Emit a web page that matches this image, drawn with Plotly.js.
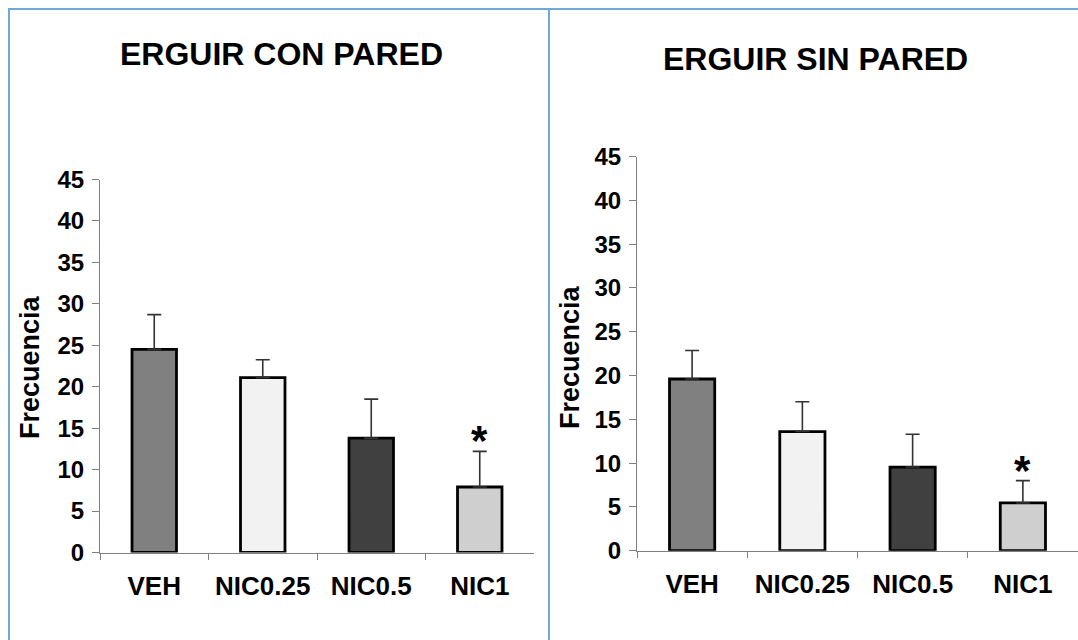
<!DOCTYPE html>
<html>
<head>
<meta charset="utf-8">
<script src="https://cdn.plot.ly/plotly-3.0.1.min.js"></script>
<style>html,body{margin:0;padding:0;background:#fff;}#chart{width:1078px;height:640px;}</style>
</head>
<body>
<div id="chart"></div>
<script>
const categories = ["VEH", "NIC0.25", "NIC0.5", "NIC1"];
const conParedMean = [24.5, 21.1, 13.8, 7.9];
const conParedSEM = [4.2, 2.15, 4.7, 4.3];
const sinParedMean = [19.6, 13.6, 9.55, 5.45];
const sinParedSEM = [3.25, 3.4, 3.75, 2.55];
const barColors = ["#808080", "#f2f2f2", "#404040", "#d0cfd0"];
const yTicks = [0, 5, 10, 15, 20, 25, 30, 35, 40, 45];
const titles = ["ERGUIR CON PARED", "ERGUIR SIN PARED"];
const yTitle = "Frecuencia";
const sigIndex = 3;

const FONT = "Liberation Sans, Arial, sans-serif";
const W = 1078, H = 640;
const px = v => v / W, py = v => 1 - v / H;

function barTrace(means, sems, xa, ya) {
  return {
    type: "bar", x: categories, y: means, xaxis: xa, yaxis: ya,
    marker: {color: barColors, line: {color: "#000", width: 2.8}},
    error_y: {type: "data", array: sems, symmetric: false, arrayminus: sems.map(() => 0),
      color: "#333", thickness: 1.6, width: 7},
    hoverinfo: "skip", showlegend: false
  };
}

const axisCommon = {
  showgrid: false, zeroline: false, showline: true, linecolor: "#808080", linewidth: 1,
  ticks: "outside", ticklen: 7, tickcolor: "#808080"
};
const xTickFont = {family: FONT, size: 26, color: "#000", weight: "bold"};
const yTickFont = {family: FONT, size: 24, color: "#000", weight: "bold"};
const yTitleFont = {family: FONT, size: 27, color: "#000", weight: "bold"};
const titleFont = {family: FONT, size: 32, color: "#000", weight: "bold"};
const starFont = {family: FONT, size: 42, color: "#000", weight: "bold"};

const layout = {
  width: W, height: H, margin: {l: 0, r: 0, t: 0, b: 0},
  paper_bgcolor: "#fff", plot_bgcolor: "rgba(0,0,0,0)",
  bargap: 0.59, showlegend: false,
  xaxis: Object.assign({}, axisCommon, {domain: [px(100), px(534)], anchor: "y", type: "category",
    tickson: "boundaries", range: [-0.5, 3.5], ticklen: 6, ticklabelstandoff: 10, tickfont: xTickFont}),
  yaxis: Object.assign({}, axisCommon, {domain: [py(552.5), py(179.5)], anchor: "x", range: [0, 45],
    tickvals: yTicks, ticktext: yTicks.map(String), ticklabelstandoff: 3, tickfont: yTickFont}),
  xaxis2: Object.assign({}, axisCommon, {domain: [px(637), px(1078)], anchor: "y2", type: "category",
    tickson: "boundaries", range: [-0.5, 3.5], ticklen: 6, ticklabelstandoff: 10, tickfont: xTickFont}),
  yaxis2: Object.assign({}, axisCommon, {domain: [py(550.7), py(156.5)], anchor: "x2", range: [0, 45],
    tickvals: yTicks, ticktext: yTicks.map(String), ticklabelstandoff: 3, tickfont: yTickFont}),
  annotations: [
    {text: titles[0], xref: "paper", yref: "paper", x: px(281), y: py(54), showarrow: false,
     font: titleFont, xanchor: "center", yanchor: "middle"},
    {text: titles[1], xref: "paper", yref: "paper", x: px(815), y: py(59), showarrow: false,
     font: titleFont, xanchor: "center", yanchor: "middle"},
    {text: yTitle, xref: "paper", yref: "paper", x: px(30), y: py(367), textangle: -90, showarrow: false,
     font: yTitleFont, xanchor: "center", yanchor: "middle"},
    {text: yTitle, xref: "paper", yref: "paper", x: px(570), y: py(357), textangle: -90, showarrow: false,
     font: yTitleFont, xanchor: "center", yanchor: "middle"},
    {text: "*", xref: "x", yref: "y", x: categories[sigIndex], y: conParedMean[sigIndex] + conParedSEM[sigIndex],
     yshift: -15, showarrow: false, yanchor: "bottom", font: starFont},
    {text: "*", xref: "x2", yref: "y2", x: categories[sigIndex], y: sinParedMean[sigIndex] + sinParedSEM[sigIndex],
     yshift: -15, showarrow: false, yanchor: "bottom", font: starFont}
  ],
  shapes: [
    {type: "line", xref: "paper", yref: "paper", x0: px(8), x1: 1, y0: py(9), y1: py(9), line: {color: "#6fa8dc", width: 2}},
    {type: "line", xref: "paper", yref: "paper", x0: px(9), x1: px(9), y0: py(8), y1: 0, line: {color: "#6fa8dc", width: 2}},
    {type: "line", xref: "paper", yref: "paper", x0: px(549), x1: px(549), y0: py(8), y1: 0, line: {color: "#6fa8dc", width: 2}}
  ]
};

Plotly.newPlot("chart", [barTrace(conParedMean, conParedSEM, "x", "y"), barTrace(sinParedMean, sinParedSEM, "x2", "y2")],
  layout, {staticPlot: true, displayModeBar: false});
</script>
</body>
</html>
